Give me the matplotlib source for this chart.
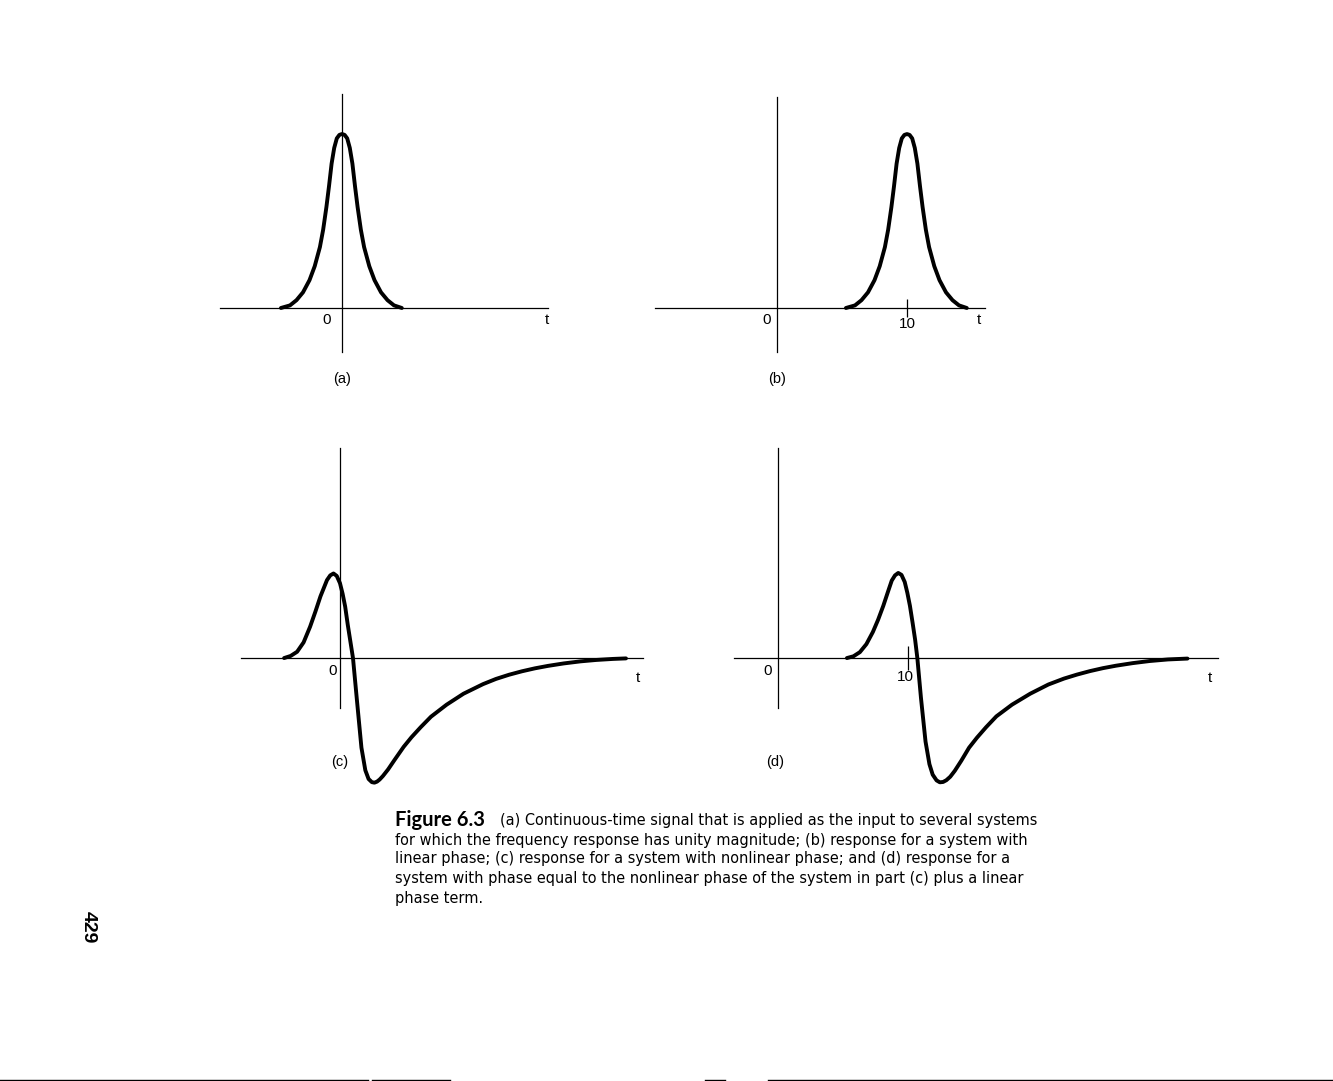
import matplotlib.pyplot as plt
from matplotlib.lines import Line2D

W, H = 1333, 1081

# (a) input pulse, centred at t = 0
t_a = [-4.7, -4.0, -3.5, -3.0, -2.5, -2.1, -1.7, -1.45, -1.2, -1.0, -0.8, -0.6, -0.4, -0.2,
       0.0, 0.2, 0.4, 0.6, 0.8, 1.0, 1.2, 1.45, 1.7, 2.1, 2.5, 3.0, 3.5, 4.0, 4.6]
x_a = [0.0, 0.015, 0.045, 0.09, 0.16, 0.24, 0.35, 0.45, 0.58, 0.70, 0.83, 0.92, 0.975, 0.995,
       1.0, 0.995, 0.975, 0.92, 0.83, 0.70, 0.58, 0.45, 0.35, 0.24, 0.16, 0.09, 0.045, 0.015, 0.0]

# (b) linear phase: same pulse delayed to t = 10
t_b = [5.3, 6.0, 6.5, 7.0, 7.5, 7.9, 8.3, 8.55, 8.8, 9.0, 9.2, 9.4, 9.6, 9.8,
       10.0, 10.2, 10.4, 10.6, 10.8, 11.0, 11.2, 11.45, 11.7, 12.1, 12.5, 13.0, 13.5, 14.0, 14.6]
y_b = [0.0, 0.015, 0.045, 0.09, 0.16, 0.24, 0.35, 0.45, 0.58, 0.70, 0.83, 0.92, 0.975, 0.995,
       1.0, 0.995, 0.975, 0.92, 0.83, 0.70, 0.58, 0.45, 0.35, 0.24, 0.16, 0.09, 0.045, 0.015, 0.0]

# (c) nonlinear phase
t_c = [-4.3, -3.8, -3.3, -2.8, -2.3, -1.9, -1.5, -1.0, -0.75, -0.5, -0.25, 0.0, 0.2, 0.4,
       0.6, 0.8, 1.0, 1.3, 1.65, 1.95, 2.2, 2.45, 2.65, 2.85, 3.05, 3.3, 3.7, 4.2, 4.9, 5.5,
       6.2, 7.0, 8.2, 9.5, 11.0, 12.0, 13.0, 14.0, 15.0, 16.0, 17.2, 18.5, 19.7, 21.0, 22.0]
y_c = [0.0, 0.012, 0.036, 0.09, 0.18, 0.265, 0.355, 0.448, 0.475, 0.486, 0.472, 0.43, 0.37, 0.295,
       0.19, 0.095, 0.0, -0.24, -0.515, -0.645, -0.695, -0.713, -0.716, -0.71, -0.698, -0.678,
       -0.64, -0.585, -0.51, -0.455, -0.398, -0.337, -0.268, -0.205, -0.150, -0.120, -0.096,
       -0.076, -0.059, -0.045, -0.031, -0.019, -0.011, -0.005, -0.002]

# (d) nonlinear phase plus linear phase term
t_d = [5.3, 5.8, 6.3, 6.8, 7.3, 7.7, 8.1, 8.5, 8.75, 9.0, 9.25, 9.5, 9.75, 9.95, 10.15, 10.35,
       10.55, 10.72, 11.0, 11.35, 11.65, 11.9, 12.2, 12.45, 12.7, 12.95, 13.25, 13.6, 14.1,
       14.7, 15.3, 16.0, 16.8, 18.0, 19.4, 20.8, 22.0, 23.0, 24.0, 25.0, 26.0, 27.3, 28.6,
       30.0, 31.5]
y_d = [0.0, 0.01, 0.034, 0.08, 0.15, 0.22, 0.30, 0.39, 0.445, 0.475, 0.489, 0.478, 0.437, 0.375,
       0.30, 0.205, 0.105, 0.0, -0.23, -0.48, -0.61, -0.67, -0.703, -0.714, -0.712, -0.702,
       -0.682, -0.648, -0.59, -0.515, -0.458, -0.398, -0.335, -0.268, -0.205, -0.152, -0.118,
       -0.095, -0.075, -0.058, -0.044, -0.029, -0.017, -0.008, -0.003]

caption = [
    "(a) Continuous-time signal that is applied as the input to several systems",
    "for which the frequency response has unity magnitude; (b) response for a system with",
    "linear phase; (c) response for a system with nonlinear phase; and (d) response for a",
    "system with phase equal to the nonlinear phase of the system in part (c) plus a linear",
    "phase term.",
]
caption_x = [500, 395, 395, 395, 395]
caption_y = [820, 840, 859, 879, 899]
caption_w = [537, 631, 614, 625, 87]

LBL = "Liberation Sans"
FS = 11

fig = plt.figure(figsize=(W / 100, H / 100), dpi=100)
renderer = fig.canvas.get_renderer()


def panel(box, xlim, ylim, t, y, name, tick10=None, t_off=(0, -12), zero_off=(-12, -12),
          name_off=(0, -60), ten_off=(0, -16)):
    # box in pixels: left, top, right, bottom
    l, tp, r, b = box
    ax = fig.add_axes([l / W, 1 - b / H, (r - l) / W, (b - tp) / H])
    ax.set_xlim(*xlim)
    ax.set_ylim(*ylim)
    ax.patch.set_alpha(0)
    for s in ("top", "right"):
        ax.spines[s].set_visible(False)
    ax.spines["bottom"].set_position(("data", 0))
    ax.spines["left"].set_position(("data", 0))
    ax.spines["bottom"].set_linewidth(0.9)
    ax.spines["left"].set_linewidth(0.9)
    ax.set_yticks([])
    if tick10 is not None:
        ax.set_xticks([10])
        ax.set_xticklabels([])
        ax.tick_params(axis="x", direction="inout", length=tick10, width=0.9)
        ax.annotate("10", (10, 0), xytext=ten_off, textcoords="offset pixels",
                    ha="center", va="center", fontsize=FS, family=LBL)
    else:
        ax.set_xticks([])
    ax.plot(t, y, color="black", lw=2.8, solid_capstyle="round", solid_joinstyle="round",
            clip_on=False)
    ax.annotate("0", (0, 0), xytext=zero_off, textcoords="offset pixels",
                ha="center", va="center", fontsize=FS, family=LBL)
    ax.annotate("t", (1, 0), xycoords=("axes fraction", "data"), xytext=t_off,
                textcoords="offset pixels", ha="center", va="center", fontsize=FS, family=LBL)
    ax.annotate(name, (0, 0), xytext=name_off, textcoords="offset pixels",
                ha="center", va="center", fontsize=FS - 0.5, family=LBL)
    return ax


panel((220, 94, 548, 352), (-9.385, 15.846), (-0.253, 1.230), t_a, x_a, "(a)",
      t_off=(-1, -12), zero_off=(-15, -12), name_off=(0, -71))
panel((655, 97, 985, 352), (-9.385, 16.0), (-0.253, 1.213), t_b, y_b, "(b)",
      tick10=13, t_off=(-6, -12), zero_off=(-10, -12), name_off=(0, -71), ten_off=(0, -16))
panel((241, 448, 643, 708), (-7.615, 23.31), (-0.287, 1.207), t_c, y_c, "(c)",
      t_off=(-5, -20), zero_off=(-7, -13), name_off=(0, -104))
panel((734, 448, 1218, 708), (-3.385, 33.85), (-0.287, 1.207), t_d, y_d, "(d)",
      tick10=17, t_off=(-8, -20), zero_off=(-10, -13), name_off=(-3, -104), ten_off=(-3, -19))


def fitted(x, y, s, width, **kw):
    txt = fig.text(x / W, 1 - y / H, s, ha="left", va="center", fontsize=10, **kw)
    w = txt.get_window_extent(renderer).width
    return txt, 10 * width / w


# caption: one common size fitted to the justified line widths
cap_kw = dict(family="DejaVu Sans", fontstretch="condensed")
texts, sizes = [], []
for s, xx, yy, ww in zip(caption, caption_x, caption_y, caption_w):
    txt, fs = fitted(xx, yy, s, ww, **cap_kw)
    texts.append(txt)
    sizes.append(fs)
common = sum(sizes[:4]) / 4
for txt in texts:
    txt.set_fontsize(common)

head, fs_head = fitted(395, 820, "Figure 6.3", 90, family="Lato", weight="bold")
head.set_fontsize(fs_head)

# page number
fig.text(88 / W, 1 - 927 / H, "429", family=LBL, weight="bold", fontsize=14,
         rotation=-90, ha="center", va="center")

# scan edge at the bottom of the page
for x0, x1 in [(0, 368), (372, 450), (705, 725), (768, 1333)]:
    fig.add_artist(Line2D([x0 / W, x1 / W], [1.5 / H, 1.5 / H], color="black", lw=1.0,
                          transform=fig.transFigure))

plt.savefig("out.png", dpi=100)
